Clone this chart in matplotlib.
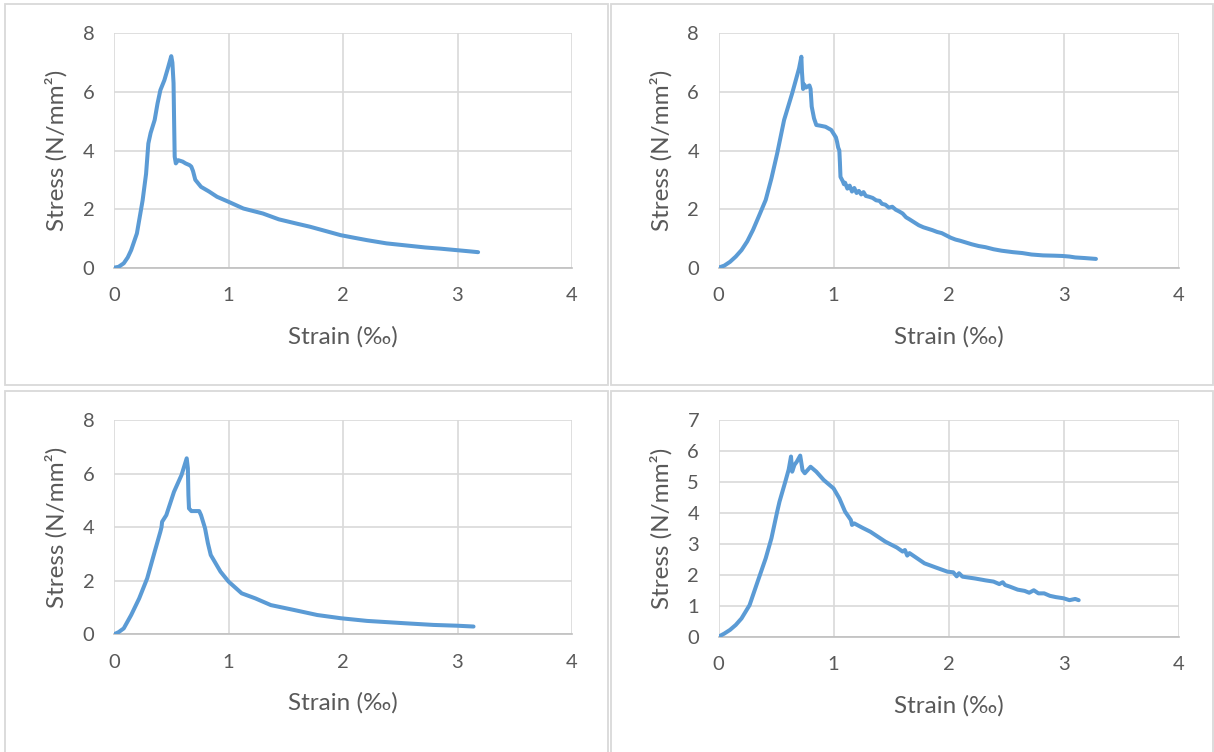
import matplotlib
matplotlib.use("Agg")
import matplotlib.pyplot as plt
from matplotlib.patches import Rectangle

# stress-strain readings for the four specimens
s1_strain = [0, 0.04, 0.085, 0.12, 0.15, 0.2, 0.25, 0.28, 0.30, 0.32,
             0.355, 0.38, 0.405, 0.44, 0.47, 0.50, 0.51, 0.52, 0.525, 0.53,
             0.54, 0.56, 0.60, 0.625, 0.66, 0.675, 0.69, 0.71, 0.76, 0.83,
             0.9, 1.0, 1.13, 1.3, 1.44, 1.6, 1.71, 1.85, 1.98, 2.1,
             2.21, 2.38, 2.55, 2.72, 2.85, 2.99, 3.1, 3.18]
s1_stress = [0, 0.03, 0.15, 0.35, 0.6, 1.17, 2.3, 3.2, 4.24, 4.6,
             5.04, 5.6, 6.06, 6.4, 6.8, 7.22, 7.0, 6.3, 5.0, 3.79,
             3.56, 3.67, 3.62, 3.56, 3.5, 3.45, 3.3, 3.0, 2.76, 2.6,
             2.42, 2.25, 2.02, 1.85, 1.65, 1.5, 1.40, 1.25, 1.11, 1.02,
             0.94, 0.83, 0.76, 0.69, 0.65, 0.60, 0.56, 0.53]

s2_strain = [0, 0.05, 0.1, 0.15, 0.2, 0.25, 0.3, 0.35, 0.41, 0.46,
             0.51, 0.57, 0.64, 0.70, 0.72, 0.725, 0.735, 0.745, 0.76, 0.79,
             0.80, 0.81, 0.83, 0.85, 0.88, 0.93, 0.98, 1.02, 1.03, 1.04,
             1.05, 1.055, 1.06, 1.08, 1.09, 1.10, 1.12, 1.14, 1.16, 1.18,
             1.20, 1.22, 1.24, 1.26, 1.28, 1.31, 1.34, 1.37, 1.40, 1.42,
             1.45, 1.48, 1.51, 1.54, 1.57, 1.60, 1.63, 1.66, 1.70, 1.74,
             1.78, 1.82, 1.86, 1.90, 1.94, 1.98, 2.02, 2.06, 2.10, 2.15,
             2.20, 2.26, 2.32, 2.39, 2.46, 2.56, 2.64, 2.72, 2.82, 2.92,
             2.99, 3.05, 3.10, 3.18, 3.28]
s2_stress = [0, 0.07, 0.2, 0.38, 0.6, 0.9, 1.29, 1.75, 2.31, 3.05,
             3.9, 5.04, 5.95, 6.8, 7.2, 6.7, 6.1, 6.25, 6.15, 6.22,
             6.1, 5.5, 5.1, 4.87, 4.85, 4.81, 4.7, 4.45, 4.3, 4.1,
             4.0, 3.6, 3.1, 2.95, 2.85, 2.9, 2.7, 2.8, 2.6, 2.72,
             2.55, 2.62, 2.5, 2.58, 2.45, 2.42, 2.38, 2.3, 2.28, 2.18,
             2.15, 2.05, 2.08, 1.98, 1.92, 1.85, 1.72, 1.65, 1.55, 1.45,
             1.38, 1.33, 1.28, 1.22, 1.18, 1.1, 1.02, 0.96, 0.92, 0.86,
             0.8, 0.74, 0.7, 0.63, 0.58, 0.53, 0.5, 0.45, 0.42, 0.41,
             0.40, 0.38, 0.35, 0.33, 0.30]

s3_strain = [0, 0.04, 0.085, 0.15, 0.22, 0.29, 0.355, 0.405, 0.415, 0.42,
             0.457, 0.524, 0.59, 0.635, 0.645, 0.65, 0.655, 0.676, 0.70, 0.744,
             0.76, 0.795, 0.82, 0.845, 0.93, 1.0, 1.115, 1.235, 1.37, 1.57,
             1.775, 1.98, 2.21, 2.55, 2.79, 3.0, 3.14]
s3_stress = [0, 0.08, 0.22, 0.72, 1.34, 2.09, 3.08, 3.83, 4.0, 4.2,
             4.45, 5.32, 5.95, 6.57, 6.2, 5.2, 4.7, 4.6, 4.6, 4.6,
             4.45, 3.96, 3.4, 2.96, 2.34, 1.97, 1.53, 1.34, 1.09, 0.91,
             0.72, 0.60, 0.50, 0.41, 0.35, 0.32, 0.29]

s4_strain = [0, 0.05, 0.1, 0.15, 0.2, 0.27, 0.34, 0.41, 0.46, 0.51,
             0.53, 0.58, 0.61, 0.63, 0.64, 0.66, 0.68, 0.71, 0.73, 0.75,
             0.80, 0.85, 0.915, 1.0, 1.05, 1.10, 1.15, 1.16, 1.18, 1.25,
             1.32, 1.45, 1.55, 1.60, 1.62, 1.64, 1.66, 1.79, 1.9, 1.99,
             2.04, 2.07, 2.09, 2.12, 2.23, 2.32, 2.39, 2.44, 2.47, 2.49,
             2.53, 2.60, 2.66, 2.70, 2.74, 2.78, 2.83, 2.88, 2.93, 3.0,
             3.05, 3.1, 3.13]
s4_stress = [0, 0.1, 0.22, 0.38, 0.59, 1.02, 1.78, 2.53, 3.18, 4.04,
             4.36, 5.0, 5.4, 5.82, 5.33, 5.55, 5.65, 5.85, 5.38, 5.28,
             5.49, 5.33, 5.06, 4.79, 4.47, 4.04, 3.77, 3.61, 3.66, 3.52,
             3.39, 3.07, 2.88, 2.75, 2.8, 2.62, 2.7, 2.37, 2.22, 2.10,
             2.08, 1.95, 2.05, 1.94, 1.88, 1.82, 1.78, 1.7, 1.76, 1.67,
             1.62, 1.52, 1.48, 1.42, 1.5, 1.4, 1.40, 1.32, 1.28, 1.24,
             1.18, 1.22, 1.18]

x_ticks = [0, 1, 2, 3, 4]
y_ticks_a = [0, 2, 4, 6, 8]
y_ticks_b = [0, 1, 2, 3, 4, 5, 6, 7]

W, H = 1214, 752
BLUE = "#5B9BD5"
GREY_TXT = "#595959"
GRID = "#D9D9D9"

plt.rcParams['font.family'] = ['Lato', 'DejaVu Sans']

fig = plt.figure(figsize=(W / 100, H / 100), dpi=100)

# chart frames, in pixels: left, top, right, bottom
frames = [(5, 4, 608, 385), (611, 4, 1213, 385),
          (5, 391, 608, 760), (611, 391, 1213, 760)]
for l, t, r, b in frames:
    fig.add_artist(Rectangle((l / W, 1 - b / H), (r - l) / W, (b - t) / H,
                             transform=fig.transFigure, fill=False,
                             edgecolor=GRID, linewidth=1.3))

# plot areas, in pixels: left, top, right, bottom
areas = [(114, 33.3, 572, 267.7), (718.5, 33.3, 1178.8, 267.7),
         (114, 420, 572, 634.3), (718.5, 420, 1178.8, 636.7)]
curves = [(s1_strain, s1_stress, y_ticks_a), (s2_strain, s2_stress, y_ticks_a),
          (s3_strain, s3_stress, y_ticks_a), (s4_strain, s4_stress, y_ticks_b)]

for (l, t, r, b), (sx, sy, yt) in zip(areas, curves):
    ax = fig.add_axes([l / W, 1 - b / H, (r - l) / W, (b - t) / H])
    ax.plot(sx, sy, color=BLUE, linewidth=2.9, solid_joinstyle='round',
            solid_capstyle='round', zorder=3)
    ax.set_xlim(0, 4)
    ax.set_ylim(yt[0], yt[-1])
    ax.set_xticks(x_ticks)
    ax.set_yticks(yt)
    ax.grid(True, color=GRID, linewidth=1.2)
    ax.set_axisbelow(True)
    for side in ['top', 'right', 'left']:
        ax.spines[side].set_visible(False)
    ax.spines['bottom'].set_color("#BFBFBF")
    ax.spines['bottom'].set_linewidth(1.2)
    ax.tick_params(length=0, pad=14, labelsize=14.5, labelcolor=GREY_TXT)
    ax.set_xlabel("Strain (‰)", fontsize=17.5, color=GREY_TXT)
    ax.set_ylabel("Stress (N/mm²)", fontsize=17.5, color=GREY_TXT)
    ax.xaxis.set_label_coords(0.5, -58 / (b - t))
    ax.yaxis.set_label_coords(-46 / (r - l), 0.5)

fig.savefig("out.png", dpi=100)
